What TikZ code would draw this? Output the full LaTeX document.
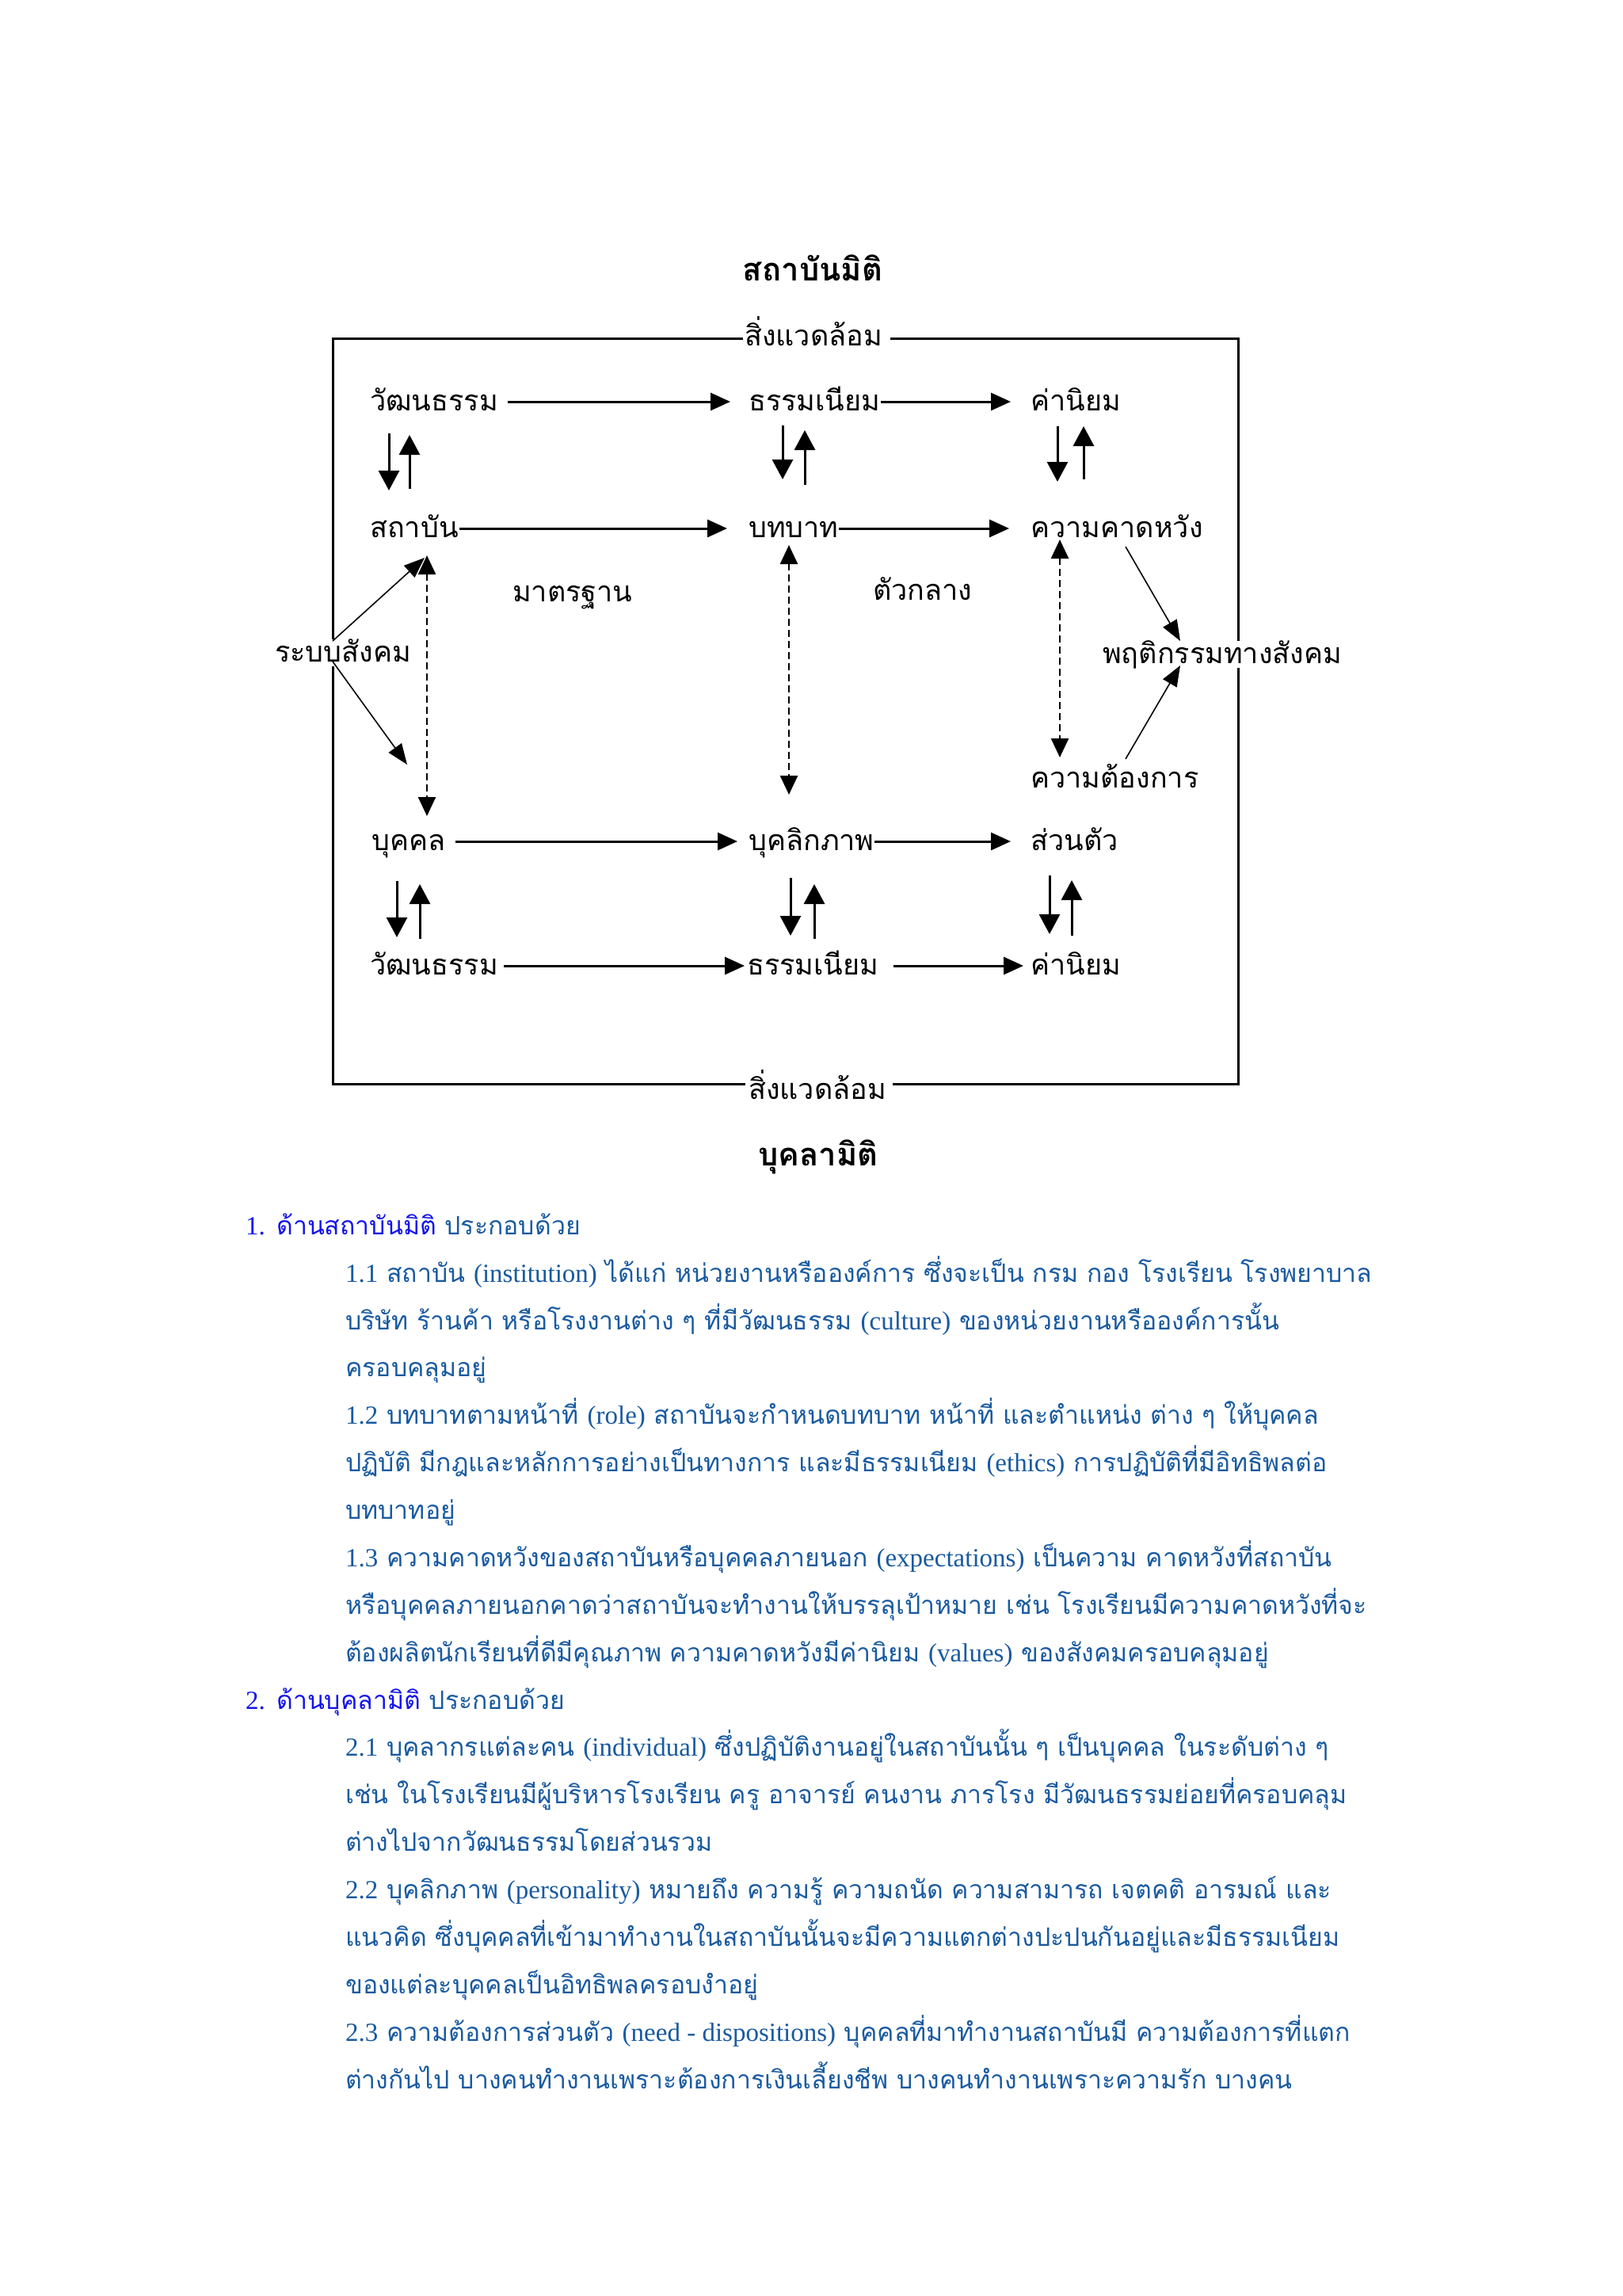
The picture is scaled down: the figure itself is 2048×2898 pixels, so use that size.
\documentclass[tikz,border=0pt]{standalone}
\usepackage{fontspec}
\usetikzlibrary{arrows.meta,calc}
\newfontfamily\thaifont[Script=Thai]{Loma}
\newfontfamily\latfont{Liberation Serif}
\newcommand\la[1]{{\latfont\fontsize{33}{40}\selectfont #1}}
\newcommand\dsz{\fontsize{36}{40}\selectfont}
\newcommand\tsz{\fontsize{40}{44}\selectfont}
\newcommand\bsz{\fontsize{32}{40}\selectfont}
\definecolor{headblue}{RGB}{20,20,235}
\definecolor{bodyblue}{RGB}{25,90,160}
\tikzset{
  dt/.style={font=\thaifont\dsz, inner sep=0pt, text height=22pt, text depth=0pt, anchor=west},
  ttl/.style={font=\thaifont\bfseries\tsz, inner sep=0pt},
  boxline/.style={line width=3pt},
  harr/.style={line width=3pt, -{Triangle[length=25pt,width=22pt]}},
  varr/.style={line width=3pt, -{Triangle[length=25pt,width=26pt]}},
  darr/.style={line width=2.5pt, dash pattern=on 9pt off 5pt, {Triangle[length=24pt,width=22pt]}-{Triangle[length=24pt,width=22pt]}},
  sarr/.style={line width=1.6pt, -{Triangle[length=26pt,width=20pt]}},
  bt/.style={font=\thaifont\bsz, text=bodyblue, anchor=base west, inner sep=0pt},
}
\begin{document}
\begin{tikzpicture}[x=1pt,y=-1pt]
\fill[white] (0,0) rectangle (2048,2898);
\useasboundingbox (0,0) rectangle (2048,2898);

% titles
\node[ttl] (T) at (1026,338) {สถาบันมิติ};
\node[ttl] (B) at (1033,1460) {บุคลามิติ};

% environment labels
\node[dt] (envT) at (940,425) {สิ่งแวดล้อม};
\node[dt] (envB) at (945,1376) {สิ่งแวดล้อม};

% frame
\coordinate (TL) at (420,427);
\coordinate (TR) at (1563,427);
\coordinate (BL) at (420,1368);
\coordinate (BR) at (1563,1368);
\draw[boxline] ([xshift=-2pt]envT.west |- TL) -- (TL) -- (BL) -- ([xshift=-4pt]envB.west |- BL);
\draw[boxline] ([xshift=10pt]envT.east |- TR) -- (TR) -- (BR) -- ([xshift=8pt]envB.east |- BR);

% diagram nodes
\node[dt] (v1) at (467,507) {วัฒนธรรม};
\node[dt] (t1) at (945,507) {ธรรมเนียม};
\node[dt] (k1) at (1301,507) {ค่านิยม};
\node[dt] (s2) at (467,667) {สถาบัน};
\node[dt] (b2) at (945,667) {บทบาท};
\node[dt] (e2) at (1301,667) {ความคาดหวัง};
\node[dt] (std) at (647,748) {มาตรฐาน};
\node[dt] (mid) at (1102,746) {ตัวกลาง};
\node[dt, fill=white, inner ysep=6pt] (soc) at (347,824) {ระบบสังคม};
\node[dt, fill=white, inner ysep=6pt] (beh) at (1392,826) {พฤติกรรมทางสังคม};
\node[dt] (need) at (1301,983) {ความต้องการ};
\node[dt] (p3) at (469,1062) {บุคคล};
\node[dt] (q3) at (945,1062) {บุคลิกภาพ};
\node[dt] (r3) at (1301,1062) {ส่วนตัว};
\node[dt] (v4) at (467,1219) {วัฒนธรรม};
\node[dt] (t4) at (943,1219) {ธรรมเนียม};
\node[dt] (k4) at (1301,1219) {ค่านิยม};

% horizontal arrows
\draw[harr] ([xshift=12pt]v1.east) -- ([xshift=-23pt]t1.west);
\draw[harr] (t1.east) -- ([xshift=-25pt]k1.west);
\draw[harr] ([xshift=1pt]s2.east) -- ([xshift=-27pt]b2.west);
\draw[harr] (b2.east) -- ([xshift=-27pt]e2.west);
\draw[harr] ([xshift=13pt]p3.east) -- ([xshift=-14pt]q3.west);
\draw[harr] (q3.east) -- ([xshift=-25pt]r3.west);
\draw[harr] ([xshift=7pt]v4.east) -- ([xshift=-3pt]t4.west);
\draw[harr] ([xshift=18pt]t4.east) -- ([xshift=-9pt]k4.west);

% vertical arrow pairs
\draw[varr] ($(v1.west)+(24,40)$) -- ($(s2.west)+(24,-48)$);
\draw[varr] ($(s2.west)+(50,-50)$) -- ($(v1.west)+(50,42)$);
\draw[varr] ($(t1.west)+(43,30)$) -- ($(b2.west)+(43,-62)$);
\draw[varr] ($(b2.west)+(71,-55)$) -- ($(t1.west)+(71,36)$);
\draw[varr] ($(k1.west)+(34,31)$) -- ($(e2.west)+(34,-59)$);
\draw[varr] ($(e2.west)+(67,-62)$) -- ($(k1.west)+(67,31)$);
\draw[varr] ($(p3.west)+(32,50)$) -- ($(v4.west)+(34,-36)$);
\draw[varr] ($(v4.west)+(63,-34)$) -- ($(p3.west)+(61,54)$);
\draw[varr] ($(q3.west)+(53,46)$) -- ($(t4.west)+(55,-38)$);
\draw[varr] ($(t4.west)+(85,-34)$) -- ($(q3.west)+(83,54)$);
\draw[varr] ($(r3.west)+(24,43)$) -- ($(k4.west)+(24,-40)$);
\draw[varr] ($(k4.west)+(52,-38)$) -- ($(r3.west)+(52,49)$);

% dashed two-way arrows
\draw[darr] ($(s2.west)+(72,34)$) -- ($(p3.west)+(70,-32)$);
\draw[darr] ($(b2.west)+(51,21)$) -- ($(q3.west)+(51,-59)$);
\draw[darr] ($(e2.west)+(37,14)$) -- ($(need.west)+(37,-27)$);

% diagonal arrows
\draw[sarr] ($(soc.west)+(73,-15)$) -- ($(s2.west)+(69,37)$);
\draw[sarr] ($(soc.west)+(73,11)$) -- ($(p3.west)+(45,-97)$);
\draw[sarr] ($(e2.west)+(120,23)$) -- ($(beh.west)+(98,-17)$);
\draw[sarr] ($(need.west)+(120,-25)$) -- ($(beh.west)+(98,14)$);

% body text
\node[bt] (h1) at (310,1558) {{\color{headblue}\la{1.} ด้านสถาบันมิติ} ประกอบด้วย};
\node[bt] (l1) at (436,1618) {\la{1.1} สถาบัน \la{(institution)} ได้แก่ หน่วยงานหรือองค์การ ซึ่งจะเป็น กรม กอง โรงเรียน โรงพยาบาล};
\node[bt] (l2) at (436,1678) {บริษัท ร้านค้า หรือโรงงานต่าง ๆ ที่มีวัฒนธรรม \la{(culture)} ของหน่วยงานหรือองค์การนั้น};
\node[bt] (l3) at (436,1737) {ครอบคลุมอยู่};
\node[bt] (l4) at (436,1797) {\la{1.2} บทบาทตามหน้าที่ \la{(role)} สถาบันจะกำหนดบทบาท หน้าที่ และตำแหน่ง ต่าง ๆ ให้บุคคล};
\node[bt] (l5) at (436,1857) {ปฏิบัติ มีกฎและหลักการอย่างเป็นทางการ และมีธรรมเนียม \la{(ethics)} การปฏิบัติที่มีอิทธิพลต่อ};
\node[bt] (l6) at (436,1917) {บทบาทอยู่};
\node[bt] (l7) at (436,1977) {\la{1.3} ความคาดหวังของสถาบันหรือบุคคลภายนอก \la{(expectations)} เป็นความ คาดหวังที่สถาบัน};
\node[bt] (l8) at (436,2037) {หรือบุคคลภายนอกคาดว่าสถาบันจะทำงานให้บรรลุเป้าหมาย เช่น โรงเรียนมีความคาดหวังที่จะ};
\node[bt] (l9) at (436,2097) {ต้องผลิตนักเรียนที่ดีมีคุณภาพ ความคาดหวังมีค่านิยม \la{(values)} ของสังคมครอบคลุมอยู่};
\node[bt] (h2) at (310,2157) {{\color{headblue}\la{2.} ด้านบุคลามิติ} ประกอบด้วย};
\node[bt] (m1) at (436,2216) {\la{2.1} บุคลากรแต่ละคน \la{(individual)} ซึ่งปฏิบัติงานอยู่ในสถาบันนั้น ๆ เป็นบุคคล ในระดับต่าง ๆ};
\node[bt] (m2) at (436,2276) {เช่น ในโรงเรียนมีผู้บริหารโรงเรียน ครู อาจารย์ คนงาน ภารโรง มีวัฒนธรรมย่อยที่ครอบคลุม};
\node[bt] (m3) at (436,2336) {ต่างไปจากวัฒนธรรมโดยส่วนรวม};
\node[bt] (m4) at (436,2396) {\la{2.2} บุคลิกภาพ \la{(personality)} หมายถึง ความรู้ ความถนัด ความสามารถ เจตคติ อารมณ์ และ};
\node[bt] (m5) at (436,2456) {แนวคิด ซึ่งบุคคลที่เข้ามาทำงานในสถาบันนั้นจะมีความแตกต่างปะปนกันอยู่และมีธรรมเนียม};
\node[bt] (m6) at (436,2516) {ของแต่ละบุคคลเป็นอิทธิพลครอบงำอยู่};
\node[bt] (m7) at (436,2576) {\la{2.3} ความต้องการส่วนตัว \la{(need - dispositions)} บุคคลที่มาทำงานสถาบันมี ความต้องการที่แตก};
\node[bt] (m8) at (436,2636) {ต่างกันไป บางคนทำงานเพราะต้องการเงินเลี้ยงชีพ บางคนทำงานเพราะความรัก บางคน};
\end{tikzpicture}
\end{document}
